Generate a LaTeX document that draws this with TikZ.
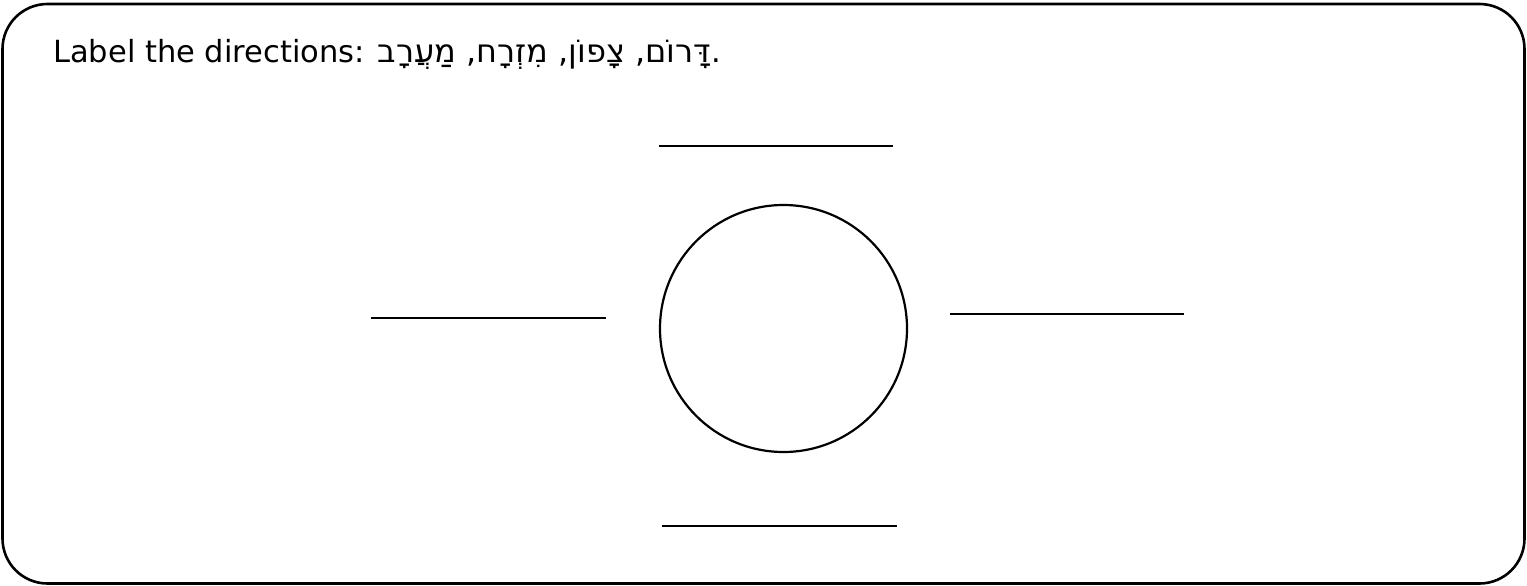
\documentclass[tikz,border=0pt]{standalone}
\usepackage{fontspec}
\setmainfont{DejaVu Sans}
\newfontfamily\hebfont[Script=Hebrew,Scale=1.05]{DejaVu Sans}
\TeXXeTstate=1
\begin{document}
\begin{tikzpicture}[x=1pt,y=-1pt,
  frame/.style={draw=black,line width=2.6pt,rounded corners=45pt},
  blank/.style={draw=black,line width=2.8pt},
  globe/.style={draw=black,line width=2.2pt,circle,minimum size=247pt,inner sep=0pt}]
\useasboundingbox (0,0) rectangle (1527,586);
\draw[frame] (2.5,4) rectangle (1524.5,583.5);
\node[anchor=base west,inner sep=0pt,font=\fontsize{30.5}{36}\selectfont] (title) at (53,63)
  {Label the directions: {\hebfont\beginR דָּרוֹם, צָפוֹן, מִזְרָח, מַעֲרָב\endR}.};
\node[globe] (earth) at (783.5,328.5) {};
\coordinate (n1) at (659,146); \coordinate (n2) at (893,146);
\coordinate (w1) at (371,318); \coordinate (w2) at (606,318);
\coordinate (e1) at (950,314); \coordinate (e2) at (1184,314);
\coordinate (s1) at (662,526); \coordinate (s2) at (897,526);
\draw[blank] (n1) -- (n2);
\draw[blank] (w1) -- (w2);
\draw[blank] (e1) -- (e2);
\draw[blank] (s1) -- (s2);
\end{tikzpicture}
\end{document}
